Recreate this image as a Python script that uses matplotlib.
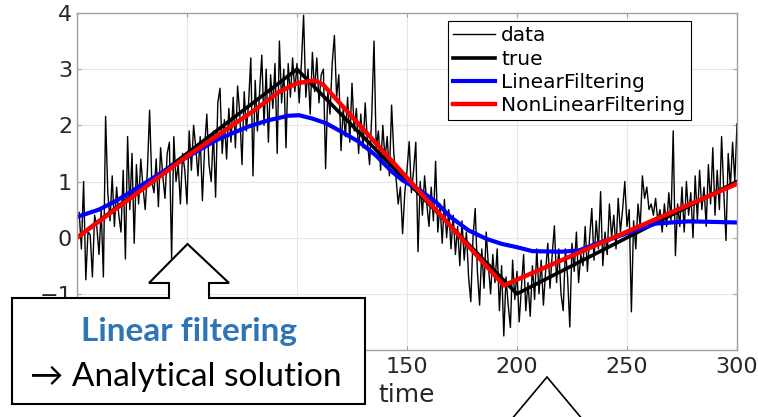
import matplotlib.pyplot as plt
from matplotlib.patches import Polygon
import numpy as np

# noisy measurements, one per time step (t = 1..300)
data = [
    0.45, -0.2, 1.0, -0.75, 0.1, 0.05, -0.7, 0.4, 0.2, -0.3,
    0.5, -0.7, 2.16, 0.8, 0.3, 1.1, 0.2, 0.9, 0.4, 0.1,
    1.2, -0.38, 1.8, 0.5, 1.5, -0.1, 1.3, 0.6, 1.4, 0.9,
    0.5, 1.2, 2.27, 1.0, 0.8, 1.4, 0.55, 1.6, 1.1, 0.7,
    1.5, 1.7, -0.38, 1.8, 1.0, 1.3, 0.6, 1.5, 1.2, 0.6,
    1.9, 1.2, 2.0, 1.6, 1.1, 1.8, 0.66, 1.6, 2.2, 1.3,
    1.0, 1.9, 0.72, 2.4, 2.66, 1.5, 2.1, 1.4, 2.3, 1.7,
    2.5, 1.6, 2.7, 2.2, 1.3, 2.6, 1.9, 2.4, 3.2, 1.1,
    2.8, 1.9, 2.6, 3.25, 2.0, 3.0, 1.7, 2.9, 2.3, 3.1,
    1.5, 3.5, 2.4, 3.0, 1.6, 3.1, 2.5, 3.2, 2.6, 3.1,
    2.4, 3.1, 3.96, 2.5, 3.0, 2.2, 3.3, 2.6, 3.2, 2.4,
    2.9, 3.0, 1.23, 2.6, 2.2, 3.1, 3.6, 2.5, 2.9, 1.55,
    2.3, 1.8, 2.5, 1.7, 2.75, 1.9, 2.3, 1.5, 2.2, 1.6,
    2.4, 1.7, 1.3, 2.2, 3.5, 1.6, 1.9, 1.2, 2.0, 1.4,
    1.8, 1.1, 2.36, 1.5, 1.07, 0.6, 0.9, 0.07, 0.8, 1.2,
    1.71, 0.8, 1.2, 1.7, -0.25, 1.0, 0.4, 1.1, 0.6, 0.2,
    0.9, 0.3, 1.36, 0.1, 0.6, -0.1, 0.68, 0.0, 0.5, -0.2,
    0.4, -0.3, 0.2, -0.5, 0.3, -0.4, 0.1, -0.7, -1.14, 0.0,
    0.52, -0.6, -1.2, -0.2, -0.9, 0.1, -0.5, -1.0, -0.3, -0.8,
    -0.2, -1.3, -0.5, -1.75, -0.7, -1.2, -1.6, -0.4, -1.1, -0.6,
    -1.5, -0.9, -0.3, -1.3, -0.8, -1.4, -0.5, -1.1, -0.2, -1.0,
    -0.4, -1.2, -0.6, -0.1, -0.9, -0.3, 0.21, -0.8, -0.2, -1.0,
    -1.3, -0.2, -0.7, -1.59, -0.1, -0.6, 0.1, -0.8, -0.3, -0.5,
    0.2, -0.6, 0.0, 0.52, -0.4, 0.3, -0.2, 0.82, -0.5, 0.1,
    -0.3, 0.6, 0.0, 0.4, -0.2, 0.7, 0.1, 0.5, 1.0, 0.2,
    0.5, -1.32, 0.3, -0.2, 0.6, 0.2, 1.1, 0.7, 0.9, 0.5,
    0.6, 0.4, 0.7, 0.3, 0.5, 0.1, 0.6, 0.2, 0.8, 0.3,
    1.9, -0.32, 0.6, 0.2, 0.9, 0.1, 1.0, 0.4, 0.8, 0.0,
    1.1, 0.3, 1.2, 0.5, 0.9, 0.2, 1.3, 0.6, 1.6, 0.4,
    1.2, 0.5, 1.8, 0.8, -0.05, 1.5, 0.9, 1.7, 1.0, 2.03,
]
time = np.arange(1, len(data) + 1)

# true signal (piecewise linear)
true_t = [0, 100, 200, 300]
true_v = [0, 3, -1, 1]

# linear filter estimate
lin_t = [0, 10, 18, 30, 45, 63, 67, 78, 87, 96, 101, 107, 113, 120, 128, 136,
         143, 148, 156, 163, 170, 178, 186, 193, 200, 207, 220, 228, 236, 243,
         250, 256, 263, 270, 278, 290, 300]
lin_v = [0.37, 0.5, 0.66, 0.95, 1.32, 1.73, 1.8, 1.98, 2.09, 2.17, 2.18, 2.12,
         2.04, 1.89, 1.71, 1.46, 1.18, 1.02, 0.84, 0.64, 0.36, 0.13, -0.02,
         -0.11, -0.17, -0.24, -0.25, -0.23, -0.11, -0.02, 0.08, 0.16, 0.25,
         0.27, 0.29, 0.28, 0.27]

# nonlinear filter estimate
nonlin_t = [0, 50, 80, 92, 100, 108, 112, 194, 300]
nonlin_v = [0, 1.45, 2.25, 2.6, 2.75, 2.8, 2.72, -0.85, 0.96]

xticks = [0, 50, 100, 150, 200, 250, 300]
# 0, 50 and 100 sit under the callout box, so they are left blank
xticklabels = ['', '', '', '150', '200', '250', '300']

W, H = 758, 417
fig = plt.figure(figsize=(W / 100, H / 100), dpi=100)
ax = fig.add_axes([77 / W, (H - 350) / H, 660 / W, 337 / H])

ax.plot(time, data, color='black', lw=1.0, label='data')
ax.plot(true_t, true_v, color='black', lw=2.6, label='true')
ax.plot(lin_t, lin_v, color='#0000ff', lw=3.0, label='LinearFiltering')
ax.plot(nonlin_t, nonlin_v, color='#ff0000', lw=3.2, label='NonLinearFiltering')

ax.set_xlim(0, 300)
ax.set_ylim(-2, 4)
ax.set_xticks(xticks)
ax.set_xticklabels(xticklabels)
ax.set_yticks([-2, -1, 0, 1, 2, 3, 4])
ax.set_yticklabels(['', '\u22121', '0', '1', '2', '3', '4'])
ax.grid(True, color='#e6e6e6', lw=0.8)
ax.set_axisbelow(True)
for s in ax.spines.values():
    s.set_color('#a0a0a0')
    s.set_linewidth(1.0)
ax.tick_params(direction='in', length=3, color='#a0a0a0', labelcolor='#262626',
               labelsize=16, top=True, right=True)
ax.tick_params(axis='x', pad=5)
ax.set_xlabel('time', fontsize=18, color='#262626', labelpad=4)

leg = ax.legend(loc='upper left', bbox_to_anchor=(0.562, 0.976), fontsize=14.5,
                frameon=True, fancybox=False, edgecolor='black', framealpha=1,
                borderpad=0.25, labelspacing=0.22, handlelength=2.1,
                handletextpad=0.3, borderaxespad=0)
leg.get_frame().set_linewidth(0.8)

# callout overlay in pixel coordinates
ov = fig.add_axes([0, 0, 1, 1])
ov.set_xlim(0, W)
ov.set_ylim(H, 0)
ov.axis('off')

callout = [(12, 298), (169, 298), (169, 283), (149, 283), (187.5, 244),
           (229, 283), (209, 283), (209, 298), (365, 298), (365, 404), (12, 404)]
ov.add_patch(Polygon(callout, closed=True, facecolor='white', edgecolor='black', lw=1.5))
ov.text(189, 332, 'Linear filtering', ha='center', va='center', fontsize=24,
        fontweight='bold', color='#2E75B6', family=['Lato', 'DejaVu Sans'])
ov.text(186, 377, '\u2192 Analytical solution', ha='center', va='center', fontsize=24,
        color='black', family=['Lato', 'DejaVu Sans'])

ov.add_patch(Polygon([(511, 420), (547, 377), (583, 420)], closed=False,
                     facecolor='white', edgecolor='black', lw=1.2))

fig.savefig('out.png', dpi=100)
